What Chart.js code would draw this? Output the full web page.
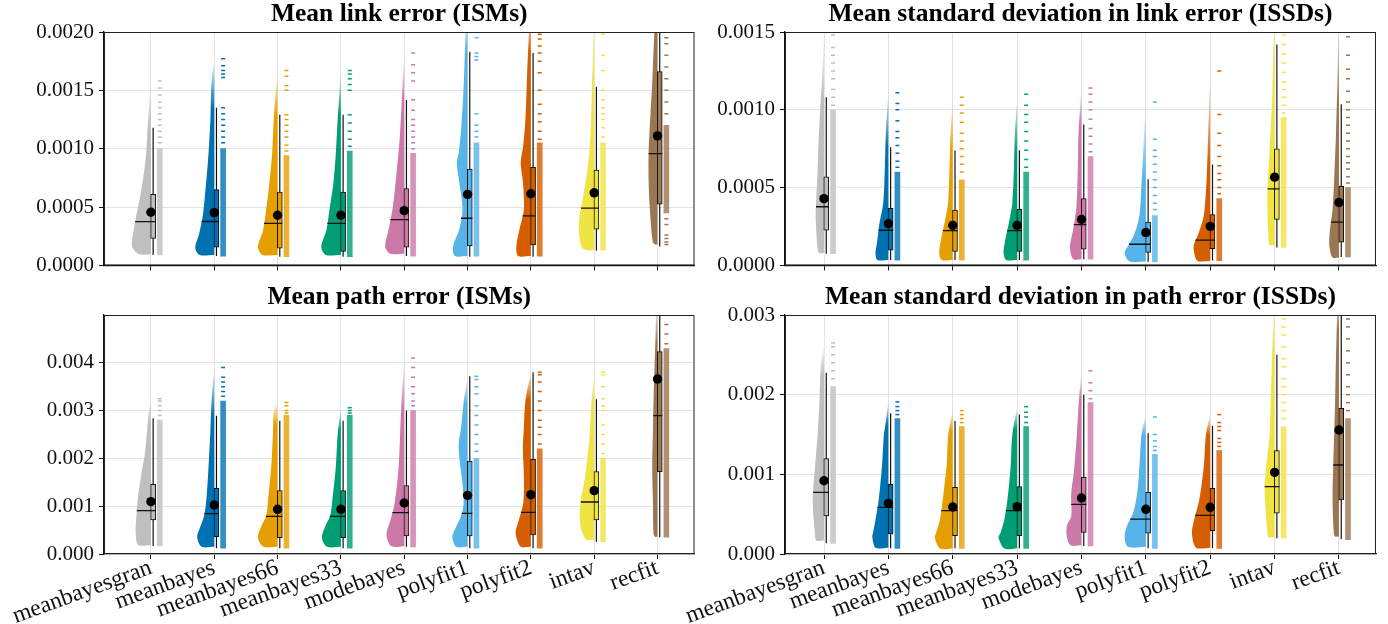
<!DOCTYPE html>
<html>
<head>
<meta charset="utf-8">
<script src="https://cdn.jsdelivr.net/npm/chart.js@4.4.0/dist/chart.umd.min.js"></script>
<style>
  html, body { margin: 0; padding: 0; background: #fff; }
  .panel { position: absolute; }
</style>
</head>
<body>
<div class="panel" style="left:0;top:0"><canvas id="cA" width="700" height="283"></canvas></div>
<div class="panel" style="left:640px;top:0"><canvas id="cB" width="748" height="283"></canvas></div>
<div class="panel" style="left:0;top:283px"><canvas id="cC" width="700" height="341"></canvas></div>
<div class="panel" style="left:640px;top:283px"><canvas id="cD" width="748" height="341"></canvas></div>
<script>
// ─── categories / colours ────────────────────────────────────────────────
const CATS = ['meanbayesgran', 'meanbayes', 'meanbayes66', 'meanbayes33', 'modebayes',
              'polyfit1', 'polyfit2', 'intav', 'recfit'];
const COLORS = ['#bfbfbf', '#0072b2', '#e69f00', '#009e73', '#cc79a7',
                '#56b4e9', '#d55e00', '#f0e442', '#9b7653'];

// ─── A: Mean link error (ISMs) ───────────────────────────────────────────
const A_YTICKS = [0, 0.0005, 0.0010, 0.0015, 0.0020];
const A_WLO  = [0.9e-4, 0.8e-4, 0.75e-4, 0.75e-4, 0.8e-4, 0.75e-4, 0.75e-4, 1.28e-4, 1.62e-4];
const A_Q1   = [2.32e-4, 1.56e-4, 1.48e-4, 1.2e-4, 1.56e-4, 1.67e-4, 1.76e-4, 3.1e-4, 5.24e-4];
const A_MED  = [3.75e-4, 3.76e-4, 3.6e-4, 3.6e-4, 3.92e-4, 4.04e-4, 4.24e-4, 4.9e-4, 9.57e-4];
const A_Q3   = [6.08e-4, 6.5e-4, 6.28e-4, 6.28e-4, 6.58e-4, 8.26e-4, 8.4e-4, 8.17e-4, 16.6e-4];
const A_WHI  = [11.8e-4, 13.5e-4, 12.9e-4, 12.9e-4, 14.17e-4, 18.3e-4, 18.2e-4, 15.3e-4, 25e-4];
const A_MEAN = [4.55e-4, 4.52e-4, 4.3e-4, 4.3e-4, 4.69e-4, 6.08e-4, 6.14e-4, 6.22e-4, 11.1e-4];
// violin half-width profiles: [value, width in category units], bottom to top
const A_VIOLIN = [
  [[0.95e-4,0.18],[1.5e-4,0.29],[2.0e-4,0.30],[3.7e-4,0.25],[6.5e-4,0.15],[9.3e-4,0.08],[12e-4,0.05],[15.8e-4,0]],
  [[0.9e-4,0.23],[1.5e-4,0.30],[2.7e-4,0.24],[4.3e-4,0.18],[7.0e-4,0.13],[9.6e-4,0.09],[12.6e-4,0.06],[15.5e-4,0.045],[17.6e-4,0]],
  [[0.9e-4,0.24],[1.6e-4,0.31],[3.0e-4,0.23],[4.8e-4,0.18],[7.0e-4,0.13],[9.6e-4,0.085],[12.6e-4,0.06],[16.7e-4,0]],
  [[0.9e-4,0.24],[1.6e-4,0.31],[3.0e-4,0.23],[4.8e-4,0.18],[7.0e-4,0.12],[9.6e-4,0.08],[12.6e-4,0.05],[16.7e-4,0]],
  [[1.0e-4,0.22],[1.6e-4,0.30],[3.0e-4,0.25],[5.0e-4,0.18],[8.0e-4,0.12],[11e-4,0.07],[14e-4,0.04],[18.2e-4,0]],
  [[0.8e-4,0.20],[1.6e-4,0.23],[3.1e-4,0.13],[4.8e-4,0.08],[7.1e-4,0.13],[8.8e-4,0.17],[9.6e-4,0.14],[11.8e-4,0.10],[15.5e-4,0.06],[20e-4,0.03],[22e-4,0]],
  [[0.8e-4,0.20],[1.6e-4,0.23],[3.1e-4,0.18],[4.8e-4,0.11],[7.1e-4,0.125],[8.8e-4,0.16],[10.3e-4,0.12],[12.6e-4,0.085],[15.5e-4,0.065],[20e-4,0.03],[22e-4,0]],
  [[1.3e-4,0.10],[1.5e-4,0.19],[2.7e-4,0.24],[4.3e-4,0.23],[5.7e-4,0.18],[8.5e-4,0.10],[11e-4,0.06],[15.5e-4,0.035],[20e-4,0.015],[22e-4,0]],
  [[1.8e-4,0.04],[2.0e-4,0.075],[4.3e-4,0.115],[7.0e-4,0.14],[9.8e-4,0.14],[12.6e-4,0.115],[15.5e-4,0.085],[18.2e-4,0.065],[20e-4,0.05],[24e-4,0.03],[26e-4,0]]
];
const A_DENSE = [[0.9e-4,10e-4],[0.8e-4,10e-4],[0.75e-4,9.4e-4],[0.75e-4,9.8e-4],[0.8e-4,9.6e-4],
                 [0.8e-4,10.5e-4],[0.8e-4,10.5e-4],[1.3e-4,10.5e-4],[4.5e-4,12e-4]];
const A_SPARSE = [
  [10.5e-4,11e-4,11.5e-4,12e-4,12.5e-4,13e-4,13.5e-4,14e-4,14.6e-4,15.2e-4,15.8e-4],
  [10.5e-4,11e-4,11.5e-4,12e-4,12.5e-4,13e-4,13.5e-4,16.1e-4,16.4e-4,16.7e-4,17.1e-4,17.7e-4],
  [9.8e-4,10.3e-4,11e-4,11.5e-4,12e-4,12.5e-4,12.9e-4,15e-4,15.4e-4,16.2e-4,16.7e-4],
  [10.2e-4,10.8e-4,11.5e-4,12.2e-4,12.9e-4,15e-4,15.5e-4,16e-4,16.4e-4,16.7e-4],
  [10e-4,10.5e-4,11e-4,11.5e-4,12e-4,12.5e-4,13.3e-4,14.2e-4,15.8e-4,16.5e-4,17.2e-4,18.2e-4],
  [11e-4,11.5e-4,12e-4,13e-4,17.6e-4,17.9e-4,18.2e-4,19.5e-4],
  [10.8e-4,11.5e-4,12.3e-4,13e-4,13.8e-4,15e-4,16.5e-4,17.5e-4,18.2e-4,18.8e-4,19.4e-4,19.8e-4],
  [11e-4,11.8e-4,12.5e-4,13e-4,13.5e-4,14.2e-4,15e-4,16.7e-4,18e-4,19.8e-4],
  [1.8e-4,2.0e-4,2.3e-4,2.6e-4,3.5e-4,4.0e-4,13e-4,14e-4,15e-4,16e-4,17e-4,18e-4,19e-4,19.5e-4,20e-4]
];

// ─── B: Mean standard deviation in link error (ISSDs) ───────────────────
const B_YTICKS = [0, 0.0005, 0.0010, 0.0015];
const B_WLO  = [0.75e-4, 0.34e-4, 0.34e-4, 0.34e-4, 0.4e-4, 0.23e-4, 0.31e-4, 1.15e-4, 0.54e-4];
const B_Q1   = [2.26e-4, 0.98e-4, 0.9e-4, 0.9e-4, 1.05e-4, 0.84e-4, 1.07e-4, 2.95e-4, 1.49e-4];
const B_MED  = [3.77e-4, 2.26e-4, 2.24e-4, 2.24e-4, 2.62e-4, 1.36e-4, 1.63e-4, 4.92e-4, 2.78e-4];
const B_Q3   = [5.69e-4, 3.66e-4, 3.56e-4, 3.6e-4, 4.29e-4, 2.78e-4, 3.26e-4, 7.49e-4, 5.08e-4];
const B_WHI  = [10.8e-4, 7.6e-4, 7.39e-4, 7.4e-4, 9.06e-4, 5.54e-4, 6.49e-4, 14.2e-4, 10.36e-4];
const B_MEAN = [4.29e-4, 2.68e-4, 2.57e-4, 2.57e-4, 2.95e-4, 2.11e-4, 2.51e-4, 5.67e-4, 4.04e-4];
const B_VIOLIN = [
  [[0.8e-4,0.08],[1.1e-4,0.10],[2.2e-4,0.12],[3.2e-4,0.13],[4.3e-4,0.12],[6e-4,0.10],[7.4e-4,0.09],[10e-4,0.06],[12e-4,0.03],[15e-4,0]],
  [[0.35e-4,0.17],[0.8e-4,0.20],[1.5e-4,0.175],[2.8e-4,0.135],[4.0e-4,0.08],[6.3e-4,0.055],[8.4e-4,0.04],[11.2e-4,0]],
  [[0.35e-4,0.17],[0.8e-4,0.21],[1.5e-4,0.19],[2.8e-4,0.125],[4.0e-4,0.073],[6.3e-4,0.05],[8.4e-4,0.035],[10.7e-4,0]],
  [[0.35e-4,0.17],[0.8e-4,0.21],[1.5e-4,0.19],[2.8e-4,0.125],[4.0e-4,0.075],[6.3e-4,0.05],[8.4e-4,0.035],[10.8e-4,0]],
  [[0.4e-4,0.13],[1.1e-4,0.18],[1.5e-4,0.17],[2.3e-4,0.13],[3.8e-4,0.078],[6.3e-4,0.057],[8.4e-4,0.047],[11.5e-4,0]],
  [[0.25e-4,0.25],[0.8e-4,0.33],[1.3e-4,0.27],[2.0e-4,0.18],[3.2e-4,0.10],[5.3e-4,0.067],[7.4e-4,0.04],[10.4e-4,0]],
  [[0.3e-4,0.20],[1.1e-4,0.26],[1.5e-4,0.24],[2.2e-4,0.17],[3.2e-4,0.10],[5.3e-4,0.06],[7.4e-4,0.04],[12.5e-4,0]],
  [[1.3e-4,0.07],[1.5e-4,0.09],[3.2e-4,0.11],[4.9e-4,0.11],[7.4e-4,0.078],[10.5e-4,0.04],[14.5e-4,0.015],[16e-4,0]],
  [[0.5e-4,0.10],[1.3e-4,0.15],[2.3e-4,0.14],[3.6e-4,0.10],[5.7e-4,0.073],[8.4e-4,0.047],[11.6e-4,0.026],[16e-4,0]]
];
const B_DENSE = [[0.75e-4,10e-4],[0.34e-4,6e-4],[0.34e-4,5.5e-4],[0.34e-4,6e-4],[0.4e-4,7e-4],
                 [0.23e-4,3.2e-4],[0.31e-4,4.3e-4],[1.15e-4,9.5e-4],[0.54e-4,5e-4]];
const B_SPARSE = [
  [10.3e-4,10.8e-4,11.3e-4,12e-4,12.5e-4,13e-4,13.5e-4,14e-4,14.8e-4],
  [6.3e-4,6.7e-4,7.2e-4,7.7e-4,8.2e-4,8.6e-4,9.3e-4,10e-4,10.4e-4,11.1e-4],
  [6e-4,6.5e-4,7e-4,7.5e-4,8e-4,8.5e-4,9.2e-4,9.8e-4,10.3e-4,10.8e-4],
  [6.3e-4,6.8e-4,7.4e-4,8e-4,8.6e-4,9.2e-4,9.7e-4,10.3e-4,11e-4],
  [7.3e-4,7.8e-4,8.3e-4,8.8e-4,9.4e-4,10e-4,10.5e-4,11e-4,11.4e-4],
  [3.6e-4,4.0e-4,4.5e-4,5e-4,5.5e-4,6e-4,6.5e-4,7e-4,7.4e-4,8.1e-4,10.5e-4],
  [4.6e-4,5.0e-4,5.5e-4,5.9e-4,6.4e-4,7.0e-4,7.7e-4,8.5e-4,9.7e-4,12.5e-4],
  [9.8e-4,10.3e-4,10.8e-4,11.3e-4,11.8e-4,12.4e-4,13e-4,13.6e-4,14.2e-4,14.8e-4,15.2e-4],
  [5.3e-4,5.7e-4,6.2e-4,6.6e-4,7e-4,7.5e-4,8e-4,8.5e-4,9e-4,9.5e-4,10e-4,10.5e-4,11.2e-4,12e-4,12.6e-4,13.5e-4,14.7e-4]
];

// ─── C: Mean path error (ISMs) ───────────────────────────────────────────
const C_YTICKS = [0, 0.001, 0.002, 0.003, 0.004];
const C_WLO  = [0.167e-3, 0.118e-3, 0.118e-3, 0.118e-3, 0.153e-3, 0.118e-3, 0.118e-3, 0.258e-3, 0.349e-3];
const C_Q1   = [0.711e-3, 0.363e-3, 0.341e-3, 0.341e-3, 0.377e-3, 0.377e-3, 0.397e-3, 0.711e-3, 1.722e-3];
const C_MED  = [0.906e-3, 0.844e-3, 0.788e-3, 0.788e-3, 0.864e-3, 0.85e-3, 0.872e-3, 1.088e-3, 2.894e-3];
const C_Q3   = [1.457e-3, 1.374e-3, 1.325e-3, 1.325e-3, 1.43e-3, 1.946e-3, 1.98e-3, 1.722e-3, 4.233e-3];
const C_WHI  = [2.84e-3, 2.89e-3, 2.79e-3, 2.79e-3, 3.0e-3, 3.72e-3, 3.8e-3, 3.24e-3, 6e-3];
const C_MEAN = [1.095e-3, 1.025e-3, 0.935e-3, 0.935e-3, 1.067e-3, 1.227e-3, 1.241e-3, 1.325e-3, 3.66e-3];
const C_VIOLIN = [
  [[0.19e-3,0.20],[0.43e-3,0.24],[0.78e-3,0.23],[1.13e-3,0.21],[1.69e-3,0.15],[2.1e-3,0.095],[2.6e-3,0.06],[3.0e-3,0.035],[3.23e-3,0]],
  [[0.15e-3,0.20],[0.36e-3,0.27],[0.57e-3,0.22],[0.8e-3,0.16],[1.13e-3,0.125],[1.83e-3,0.09],[2.52e-3,0.063],[3.22e-3,0.042],[3.89e-3,0]],
  [[0.15e-3,0.22],[0.34e-3,0.31],[0.57e-3,0.26],[0.8e-3,0.18],[1.13e-3,0.15],[1.83e-3,0.10],[2.52e-3,0.073],[3.0e-3,0.06],[3.17e-3,0]],
  [[0.15e-3,0.22],[0.34e-3,0.30],[0.57e-3,0.25],[0.8e-3,0.17],[1.13e-3,0.135],[1.83e-3,0.08],[2.52e-3,0.05],[3.06e-3,0]],
  [[0.16e-3,0.20],[0.4e-3,0.28],[0.7e-3,0.22],[1.0e-3,0.16],[1.5e-3,0.11],[2.0e-3,0.08],[3.0e-3,0.05],[4.1e-3,0]],
  [[0.15e-3,0.18],[0.36e-3,0.24],[0.57e-3,0.18],[0.8e-3,0.10],[1.06e-3,0.063],[1.48e-3,0.08],[1.97e-3,0.126],[2.3e-3,0.14],[2.66e-3,0.10],[3.22e-3,0.058],[3.7e-3,0]],
  [[0.15e-3,0.16],[0.43e-3,0.24],[0.71e-3,0.19],[1.06e-3,0.12],[1.62e-3,0.11],[2.2e-3,0.126],[2.66e-3,0.11],[3.22e-3,0.085],[3.8e-3,0]],
  [[0.3e-3,0.12],[0.36e-3,0.16],[0.55e-3,0.21],[0.78e-3,0.23],[1.13e-3,0.21],[1.48e-3,0.16],[1.97e-3,0.11],[2.52e-3,0.07],[3.22e-3,0.04],[3.8e-3,0]],
  [[0.36e-3,0.04],[0.43e-3,0.063],[1.13e-3,0.073],[1.83e-3,0.084],[2.52e-3,0.073],[3.22e-3,0.063],[3.92e-3,0.047],[4.62e-3,0.03],[5.2e-3,0.02]]
];
const C_DENSE = [[0.17e-3,2.8e-3],[0.12e-3,3.2e-3],[0.12e-3,2.9e-3],[0.12e-3,2.9e-3],[0.15e-3,3.0e-3],
                 [0.12e-3,2.0e-3],[0.12e-3,2.2e-3],[0.26e-3,2.0e-3],[0.35e-3,4.3e-3]];
const C_SPARSE = [
  [2.9e-3,3.0e-3,3.1e-3,3.2e-3,3.25e-3],
  [3.3e-3,3.4e-3,3.5e-3,3.6e-3,3.7e-3,3.9e-3],
  [2.95e-3,3.0e-3,3.1e-3,3.17e-3],
  [2.95e-3,3.0e-3,3.06e-3],
  [3.1e-3,3.2e-3,3.35e-3,3.5e-3,3.7e-3,3.9e-3,4.1e-3],
  [2.15e-3,2.3e-3,2.5e-3,2.7e-3,2.9e-3,3.1e-3,3.35e-3,3.5e-3,3.65e-3,3.72e-3],
  [2.3e-3,2.5e-3,2.65e-3,2.8e-3,3.0e-3,3.2e-3,3.4e-3,3.6e-3,3.75e-3,3.8e-3],
  [2.1e-3,2.3e-3,2.5e-3,2.7e-3,3.0e-3,3.1e-3,3.25e-3,3.5e-3,3.75e-3,3.8e-3],
  [4.4e-3,4.6e-3,4.8e-3]
];

// ─── D: Mean standard deviation in path error (ISSDs) ───────────────────
const D_YTICKS = [0, 0.001, 0.002, 0.003];
const D_WLO  = [0.134e-3, 0.071e-3, 0.071e-3, 0.071e-3, 0.1e-3, 0.071e-3, 0.071e-3, 0.197e-3, 0.184e-3];
const D_Q1   = [0.477e-3, 0.251e-3, 0.23e-3, 0.23e-3, 0.272e-3, 0.26e-3, 0.293e-3, 0.511e-3, 0.678e-3];
const D_MED  = [0.774e-3, 0.586e-3, 0.544e-3, 0.544e-3, 0.623e-3, 0.439e-3, 0.485e-3, 0.845e-3, 1.117e-3];
const D_Q3   = [1.197e-3, 0.875e-3, 0.837e-3, 0.845e-3, 0.962e-3, 0.774e-3, 0.824e-3, 1.297e-3, 1.828e-3];
const D_WHI  = [2.276e-3, 1.766e-3, 1.67e-3, 1.75e-3, 2.0e-3, 1.515e-3, 1.607e-3, 2.5e-3, 3.5e-3];
const D_MEAN = [0.92e-3, 0.636e-3, 0.59e-3, 0.594e-3, 0.703e-3, 0.561e-3, 0.586e-3, 1.025e-3, 1.556e-3];
const D_VIOLIN = [
  [[0.17e-3,0.12],[0.26e-3,0.14],[0.47e-3,0.165],[0.7e-3,0.175],[1.1e-3,0.14],[1.5e-3,0.10],[1.93e-3,0.07],[2.35e-3,0.05],[2.64e-3,0]],
  [[0.08e-3,0.20],[0.21e-3,0.25],[0.26e-3,0.24],[0.43e-3,0.20],[0.68e-3,0.15],[1.1e-3,0.10],[1.5e-3,0.07],[1.6e-3,0.05],[1.91e-3,0]],
  [[0.07e-3,0.20],[0.21e-3,0.28],[0.26e-3,0.26],[0.43e-3,0.20],[0.68e-3,0.155],[0.86e-3,0.13],[1.1e-3,0.095],[1.5e-3,0.07],[1.81e-3,0]],
  [[0.07e-3,0.20],[0.21e-3,0.29],[0.26e-3,0.26],[0.43e-3,0.20],[0.68e-3,0.15],[1.1e-3,0.10],[1.5e-3,0.075],[1.84e-3,0]],
  [[0.11e-3,0.17],[0.23e-3,0.23],[0.36e-3,0.225],[0.47e-3,0.16],[0.76e-3,0.16],[1.02e-3,0.12],[1.43e-3,0.078],[1.93e-3,0.04],[2.29e-3,0]],
  [[0.09e-3,0.28],[0.21e-3,0.33],[0.34e-3,0.30],[0.51e-3,0.20],[0.76e-3,0.135],[1.1e-3,0.10],[1.5e-3,0.067],[1.75e-3,0]],
  [[0.08e-3,0.22],[0.26e-3,0.285],[0.43e-3,0.25],[0.68e-3,0.17],[1.1e-3,0.10],[1.5e-3,0.067],[1.75e-3,0]],
  [[0.21e-3,0.10],[0.26e-3,0.11],[0.55e-3,0.14],[0.85e-3,0.155],[1.1e-3,0.13],[1.5e-3,0.078],[1.93e-3,0.06],[2.35e-3,0.045],[3.0e-3,0.02],[3.2e-3,0]],
  [[0.22e-3,0.06],[0.26e-3,0.08],[0.68e-3,0.10],[1.1e-3,0.09],[1.5e-3,0.075],[1.93e-3,0.06],[2.35e-3,0.05],[3.0e-3,0.03],[3.3e-3,0.02]]
];
const D_DENSE = [[0.134e-3,2.1e-3],[0.07e-3,1.7e-3],[0.07e-3,1.6e-3],[0.07e-3,1.6e-3],[0.1e-3,1.9e-3],
                 [0.07e-3,1.25e-3],[0.07e-3,1.3e-3],[0.2e-3,1.6e-3],[0.18e-3,1.7e-3]];
const D_SPARSE = [
  [2.2e-3,2.3e-3,2.4e-3,2.5e-3,2.6e-3,2.65e-3],
  [1.75e-3,1.8e-3,1.85e-3,1.91e-3],
  [1.65e-3,1.7e-3,1.75e-3,1.8e-3],
  [1.65e-3,1.72e-3,1.78e-3,1.85e-3],
  [1.95e-3,2.05e-3,2.15e-3,2.3e-3],
  [1.3e-3,1.35e-3,1.42e-3,1.5e-3,1.72e-3],
  [1.35e-3,1.4e-3,1.45e-3,1.55e-3,1.6e-3,1.65e-3,1.75e-3],
  [1.7e-3,1.8e-3,1.9e-3,2.0e-3,2.1e-3,2.2e-3,2.35e-3,2.45e-3,2.6e-3,2.75e-3,2.85e-3,2.95e-3,3.0e-3],
  [1.8e-3,1.9e-3,2.0e-3,2.1e-3,2.25e-3,2.4e-3,2.55e-3,2.7e-3,2.85e-3,2.95e-3]
];

// ─── offsets (category units) ─────────────────────────────────────────────
const BOX_X = 0.035;   // box / whisker centre, right of category
const SC_X = 0.14;     // strip of raw points
const SERIF = "'Liberation Serif', 'DejaVu Serif', serif";

function rgba(hex, a) {
  const n = parseInt(hex.slice(1), 16);
  return 'rgba(' + (n >> 16) + ',' + ((n >> 8) & 255) + ',' + (n & 255) + ',' + a + ')';
}

// violin half-width at a value (for the median line start)
function widthAt(prof, v) {
  for (let k = 1; k < prof.length; k++) {
    if (v <= prof[k][0]) {
      const p0 = prof[k - 1], p1 = prof[k];
      return p0[1] + (p1[1] - p0[1]) * (v - p0[0]) / (p1[0] - p0[0]);
    }
  }
  return 0;
}

function violinFill(chart, col, v0, v1) {
  const ys = chart.scales.y;
  if (!chart.chartArea || !ys) return col;
  const y0 = ys.getPixelForValue(v0), y1 = ys.getPixelForValue(v1);
  if (Math.abs(y0 - y1) < 1) return col;
  const g = chart.ctx.createLinearGradient(0, y0, 0, y1);
  g.addColorStop(0, col);
  g.addColorStop(1, rgba(col, 0.04));
  return g;
}

function buildDatasets(P) {
  const ds = [];
  // half violins (left side)
  P.violin.forEach(function(prof, i) {
    const c = i + 1, top = prof[prof.length - 1][0];
    const pts = [{x: c, y: prof[0][0]}]
      .concat(prof.map(function(p) { return {x: c - p[1], y: p[0]}; }))
      .concat([{x: c, y: top}]);
    const fadeFrom = Math.min(P.whi[i], top * 0.85);
    ds.push({
      type: 'line', data: pts, fill: 'shape', tension: 0.3,
      pointRadius: 0, borderWidth: 0, borderColor: 'rgba(0,0,0,0)',
      backgroundColor: function(ctx) { return violinFill(ctx.chart, COLORS[i], fadeFrom, top); },
      order: 10
    });
  });
  // dense part of raw-point strip
  ds.push({
    type: 'bar', grouped: false, barThickness: 5, maxBarThickness: 5,
    data: P.dense.map(function(d, i) { return {x: i + 1 + SC_X, y: d}; }),
    backgroundColor: COLORS.map(function(c) { return rgba(c, 0.8); }),
    borderWidth: 0, order: 9
  });
  // sparse raw points
  const sp = [];
  P.sparse.forEach(function(arr, i) {
    arr.forEach(function(v) { sp.push({x: i + 1 + SC_X, y: v, ci: i}); });
  });
  ds.push({
    type: 'scatter', data: sp, pointStyle: 'line', pointRadius: 2, pointBorderWidth: 1.5,
    pointBorderColor: function(ctx) { return ctx.raw ? COLORS[ctx.raw.ci] : '#000'; },
    order: 8
  });
  // whiskers
  const wh = [];
  P.wlo.forEach(function(lo, i) {
    const x = i + 1 + BOX_X;
    wh.push({x: x, y: lo}, {x: x, y: P.whi[i]}, {x: x, y: null});
  });
  ds.push({type: 'line', data: wh, borderColor: '#111', borderWidth: 1.2, pointRadius: 0,
           spanGaps: false, fill: false, order: 7});
  // boxes
  ds.push({
    type: 'bar', grouped: false, barThickness: 5, maxBarThickness: 5,
    data: P.q1.map(function(q, i) { return {x: i + 1 + BOX_X, y: [q, P.q3[i]]}; }),
    backgroundColor: COLORS, borderColor: '#111', borderWidth: 1, borderSkipped: false,
    order: 6
  });
  // medians
  const md = [];
  P.med.forEach(function(m, i) {
    const c = i + 1;
    md.push({x: c - widthAt(P.violin[i], m), y: m}, {x: c + BOX_X + 0.04, y: m}, {x: c, y: null});
  });
  ds.push({type: 'line', data: md, borderColor: '#111', borderWidth: 1.3, pointRadius: 0,
           spanGaps: false, fill: false, order: 5});
  // means
  ds.push({
    type: 'scatter', data: P.mean.map(function(m, i) { return {x: i + 1, y: m}; }),
    pointRadius: 4.7, pointBackgroundColor: '#000', pointBorderWidth: 0, order: 4
  });
  return ds;
}

const framePlugin = {
  id: 'frame',
  afterDraw: function(chart) {
    const a = chart.chartArea, ctx = chart.ctx;
    ctx.save();
    ctx.strokeStyle = '#222';
    ctx.lineWidth = 1;
    ctx.strokeRect(a.left + 0.5, a.top + 0.5, a.right - a.left - 1, a.bottom - a.top - 1);
    ctx.restore();
  }
};

function makePanel(id, P) {
  new Chart(document.getElementById(id), {
    type: 'scatter',
    data: {datasets: buildDatasets(P)},
    plugins: [framePlugin],
    options: {
      responsive: false,
      animation: false,
      events: [],
      layout: {padding: {left: 0, right: P.padR, top: 0, bottom: 0}},
      plugins: {
        legend: {display: false},
        tooltip: {enabled: false},
        title: {
          display: true, text: P.title, fullSize: false, color: '#000',
          font: {family: SERIF, size: 25.5, weight: 'bold', lineHeight: 1},
          padding: {top: 2, bottom: 4.5}
        }
      },
      scales: {
        x: {
          type: 'linear', min: P.xmin, max: P.xmax, offset: false,
          afterBuildTicks: function(s) { s.ticks = CATS.map(function(_, i) { return {value: i + 1}; }); },
          afterFit: function(s) { s.height = P.xh; },
          ticks: {
            display: P.xlabels, autoSkip: false, minRotation: 20, maxRotation: 20, padding: -5,
            color: '#111', font: {family: SERIF, size: 23.5},
            callback: function(v, idx) { return CATS[idx]; }
          },
          grid: {color: '#e3e3e3', lineWidth: 1, tickColor: '#111', tickLength: 5, offset: false},
          border: {color: '#111', width: 1.3}
        },
        y: {
          type: 'linear', min: 0, max: P.ymax,
          afterBuildTicks: function(s) { s.ticks = P.yticks.map(function(v) { return {value: v}; }); },
          afterFit: function(s) { s.width = P.yw; },
          ticks: {
            padding: 5, color: '#111', font: {family: SERIF, size: 21},
            callback: function(v) { return v.toFixed(P.dec); }
          },
          grid: {color: '#e3e3e3', lineWidth: 1, tickColor: '#111', tickLength: 5},
          border: {color: '#111', width: 1.3}
        }
      }
    }
  });
}

makePanel('cA', {
  title: 'Mean link error (ISMs)', xmin: 0.259, xmax: 9.584, ymax: 0.002, yticks: A_YTICKS, dec: 4,
  yw: 104, xh: 12, padR: 5, xlabels: false,
  wlo: A_WLO, q1: A_Q1, med: A_MED, q3: A_Q3, whi: A_WHI, mean: A_MEAN,
  violin: A_VIOLIN, dense: A_DENSE, sparse: A_SPARSE
});
makePanel('cB', {
  title: 'Mean standard deviation in link error (ISSDs)', xmin: 0.394, xmax: 9.575, ymax: 0.0015, yticks: B_YTICKS, dec: 4,
  yw: 145, xh: 12, padR: 12, xlabels: false,
  wlo: B_WLO, q1: B_Q1, med: B_MED, q3: B_Q3, whi: B_WHI, mean: B_MEAN,
  violin: B_VIOLIN, dense: B_DENSE, sparse: B_SPARSE
});
makePanel('cC', {
  title: 'Mean path error (ISMs)', xmin: 0.259, xmax: 9.584, ymax: 0.005, yticks: C_YTICKS, dec: 3,
  yw: 104, xh: 70, padR: 5, xlabels: true,
  wlo: C_WLO, q1: C_Q1, med: C_MED, q3: C_Q3, whi: C_WHI, mean: C_MEAN,
  violin: C_VIOLIN, dense: C_DENSE, sparse: C_SPARSE
});
makePanel('cD', {
  title: 'Mean standard deviation in path error (ISSDs)', xmin: 0.394, xmax: 9.575, ymax: 0.003, yticks: D_YTICKS, dec: 3,
  yw: 145, xh: 70, padR: 12, xlabels: true,
  wlo: D_WLO, q1: D_Q1, med: D_MED, q3: D_Q3, whi: D_WHI, mean: D_MEAN,
  violin: D_VIOLIN, dense: D_DENSE, sparse: D_SPARSE
});
</script>
</body>
</html>
